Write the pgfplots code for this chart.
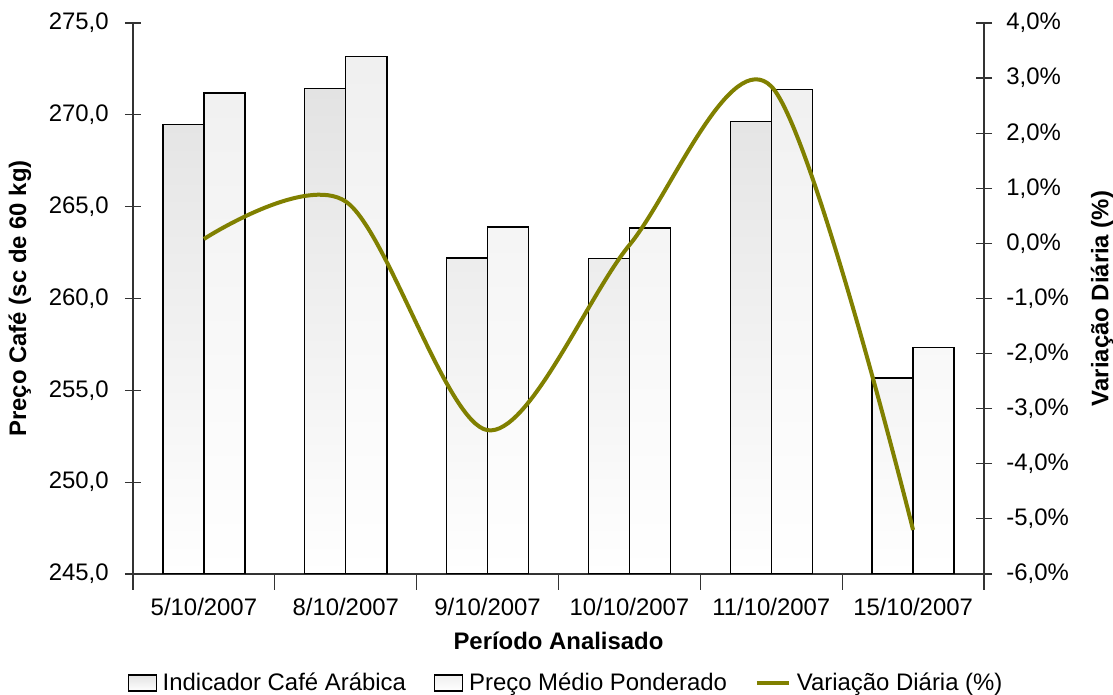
\documentclass[border=0pt]{standalone}
\usepackage{fontspec}
\setmainfont{Liberation Sans}
\usepackage{pgfplots}
\pgfplotsset{compat=1.18}
\definecolor{linecol}{RGB}{128,128,0}
\begin{document}
\fontsize{12}{14.4}\selectfont
\begin{tikzpicture}
\path[use as bounding box] (-66.5bp,-60.5bp) rectangle (490bp,287bp);
\begin{axis}[
  scale only axis, width=425.5bp, height=275.5bp,
  xmin=-0.5, xmax=5.5, ymin=245, ymax=275,
  axis x line*=bottom, axis y line*=left,
  axis line style={black!80, line width=0.6bp},
  tick style={black!80, line width=0.6bp},
  tick align=center, major tick length=8bp,
  ybar=0pt, bar width=20.5bp,
  xtick={-0.5,0.5,1.5,2.5,3.5,4.5,5.5},
  xticklabels={,,,,,,},
  extra x ticks={0,1,2,3,4,5},
  extra x tick labels={5/10/2007,8/10/2007,9/10/2007,10/10/2007,11/10/2007,15/10/2007},
  extra x tick style={major tick length=0pt, xticklabel style={yshift=-8bp}},
  ytick={245,250,...,275},
  /pgf/number format/assume math mode=true,
  yticklabel={\pgfmathprintnumber[fixed,fixed zerofill,precision=1,use comma]{\tick}},
  yticklabel style={xshift=-4bp},
  ylabel={\bfseries Preço Café (sc de 60 kg)},
  ylabel style={at={(axis description cs:-0.1328,0.5)}, anchor=center, rotate=0},
  xlabel={\bfseries Período Analisado},
  xlabel style={at={(axis description cs:0.5,-0.1215)}, anchor=center},
  legend columns=3,
  legend style={at={(axis description cs:0.51,-0.198)}, anchor=center, draw=none, fill=none,
    /tikz/every even column/.append style={column sep=12bp}, inner sep=0pt,
    /tikz/every odd column/.append style={column sep=1bp}},
  legend cell align=left,
]
\addplot[draw=black, line width=0.75bp, top color=black!11, bottom color=white,
  legend image code/.code={\draw[draw=black, line width=0.6bp, top color=black!11, bottom color=white] (0bp,-4bp) rectangle (14bp,4bp);}]
  coordinates {(0,269.46)(1,271.43)(2,262.21)(3,262.17)(4,269.65)(5,255.68)};
\addlegendentry{Indicador Café Arábica}
\addplot[draw=black, line width=0.75bp, top color=black!6, bottom color=white,
  legend image code/.code={\draw[draw=black, line width=0.6bp, top color=black!6, bottom color=white] (0bp,-4bp) rectangle (14bp,4bp);}]
  coordinates {(0,271.19)(1,273.17)(2,263.90)(3,263.84)(4,271.39)(5,257.33)};
\addlegendentry{Preço Médio Ponderado}
\addlegendimage{linecol, line width=2bp, legend image code/.code={\draw[linecol, line width=2bp] (0bp,0bp) -- (16bp,0bp);}}
\addlegendentry{Variação Diária (\%)}
\end{axis}
\begin{axis}[
  scale only axis, width=425.5bp, height=275.5bp,
  xmin=-0.5, xmax=5.5, ymin=-6, ymax=4,
  axis y line*=right, axis x line=none,
  axis line style={black!80, line width=0.6bp},
  tick style={black!80, line width=0.6bp},
  tick align=center, major tick length=8bp,
  ytick={-6,-5,...,4},
  /pgf/number format/assume math mode=true,
  yticklabel={\pgfmathprintnumber[fixed,fixed zerofill,precision=1,use comma]{\tick}\%},
  yticklabel style={xshift=3bp},
  ylabel={\bfseries Variação Diária (\%)},
  ylabel style={at={(axis description cs:1.1387,0.5)}, anchor=center, rotate=0},
]
\addplot[linecol, line width=2bp, smooth, tension=0.52]
  coordinates {(0,0.08)(1,0.76)(2,-3.39)(3,-0.03)(4,2.85)(5,-5.2)};
\end{axis}
\end{tikzpicture}
\end{document}
